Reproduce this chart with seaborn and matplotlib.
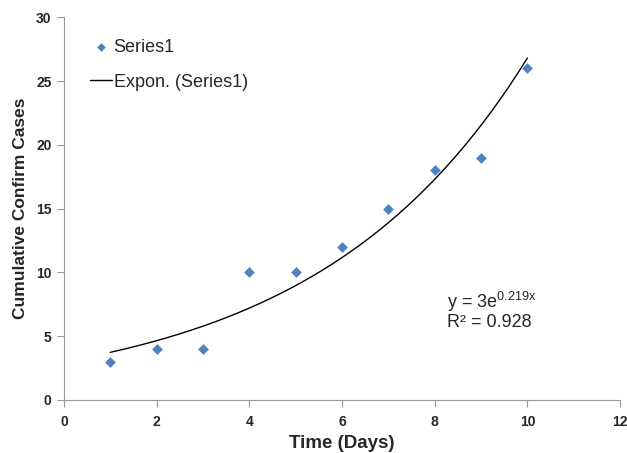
import numpy as np
import pandas as pd
import matplotlib
matplotlib.use("Agg")
import matplotlib.pyplot as plt
import seaborn as sns

days = [1, 2, 3, 4, 5, 6, 7, 8, 9, 10]
cases = [3, 4, 4, 10, 10, 12, 15, 18, 19, 26]
fit_a = 3.0
fit_b = 0.219
fit_r2 = 0.928
x_ticks = [0, 2, 4, 6, 8, 10, 12]
y_ticks = [0, 5, 10, 15, 20, 25, 30]

sns.set_style("white")
plt.rcParams['font.family'] = ['Liberation Sans', 'DejaVu Sans']

df = pd.DataFrame({'Time': days, 'Cases': cases})
xs = np.linspace(min(days), max(days), 200)
trend = pd.DataFrame({'Time': xs, 'Fit': fit_a * np.exp(fit_b * xs)})

fig = plt.figure(figsize=(6.27, 4.53), dpi=100)
ax = fig.add_axes([0.102, 0.117, 0.887, 0.845])

sns.scatterplot(data=df, x='Time', y='Cases', ax=ax, marker='D', s=30,
                color='#4F81BD', edgecolor='#4F81BD', linewidth=0, label='Series1', zorder=3)
sns.lineplot(data=trend, x='Time', y='Fit', ax=ax, color='black', linewidth=1,
             label='Expon. (Series1)')

ax.set_xlim(0, 12)
ax.set_ylim(0, 30)
ax.set_xticks(x_ticks)
ax.set_yticks(y_ticks)
ax.tick_params(axis='both', length=5, width=0.8, color='#999999', direction='out',
               labelsize=10, bottom=True, left=True)
ax.tick_params(axis='x', pad=6)
ax.tick_params(axis='y', pad=4)
for lbl in ax.get_xticklabels() + ax.get_yticklabels():
    lbl.set_fontweight('bold')
for s in ['top', 'right']:
    ax.spines[s].set_visible(False)
for s in ['left', 'bottom']:
    ax.spines[s].set_color('#999999')
    ax.spines[s].set_linewidth(0.8)

ax.set_xlabel('Time (Days)', fontsize=13.5, fontweight='bold', labelpad=4)
ax.set_ylabel('Cumulative Confirm Cases', fontsize=12.5, fontweight='bold', labelpad=6)

leg = ax.legend(loc='upper left', bbox_to_anchor=(0.034, 0.963), frameon=False, fontsize=13,
                handlelength=1.2, handletextpad=0.1, labelspacing=1.0, markerscale=0.8,
                borderaxespad=0)

ax.text(0.689, 0.287, f'y = {fit_a:g}e$^{{\\mathregular{{{fit_b}x}}}}$\nR² = {fit_r2}',
        transform=ax.transAxes, fontsize=13, va='top', ha='left', linespacing=1.0)

fig.savefig('out.png', dpi=100)
